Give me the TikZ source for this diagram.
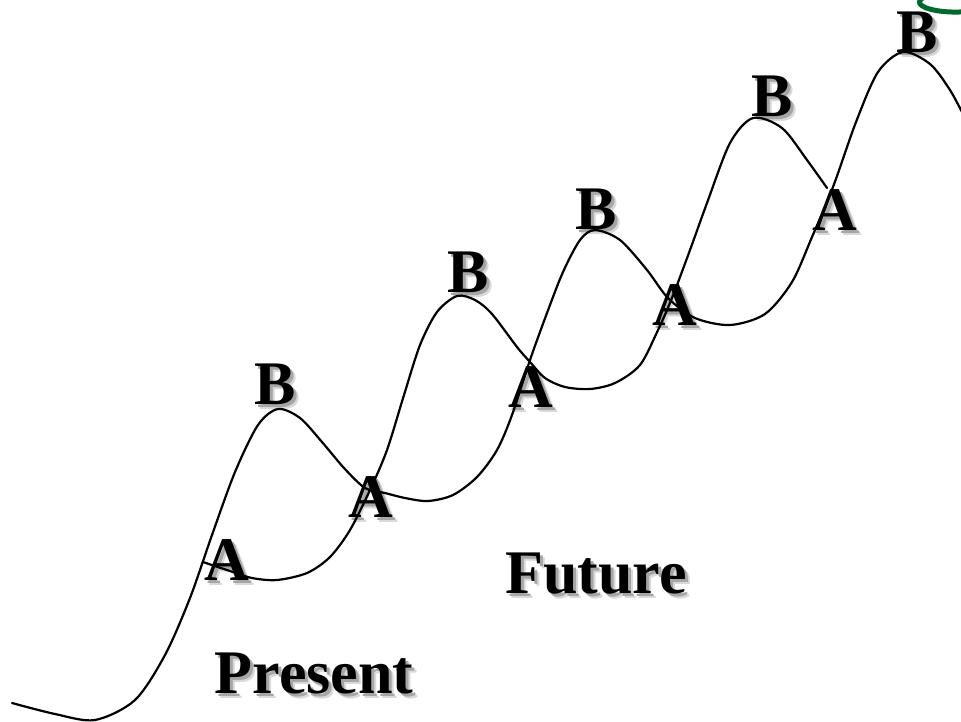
\documentclass[tikz,border=0pt]{standalone}
\usepackage{fontspec}
\setmainfont{Liberation Serif}
\definecolor{leaf}{RGB}{0,105,45}
\tikzset{tag/.style={inner sep=0pt, text=black}, ghost/.style={tag, text=black!#1}, wave/.style={line width=2.2pt}}
\begin{document}
\begin{tikzpicture}[x=1pt, y=-1pt, line join=round, line cap=round, font=\bfseries\fontsize{62}{66}\selectfont]
\useasboundingbox (0,0) rectangle (961,721);
% labels with a soft shadow
\foreach \x/\y/\n/\t in {227/560/a1/A, 371/497/a2/A, 531/387/a3/A, 675/305/a4/A, 835/210/a5/A, 275/384/b1/B, 468/272/b2/B, 596/209/b3/B, 772/96/b4/B, 917/32/b5/B, 596/574/fut/Future, 314/673/pres/Present} {
	\node[ghost=15] at (\x+5,\y+5) {\t};
	\node[ghost=35] at (\x+3,\y+3) {\t};
	\node[tag] (\n) at (\x,\y) {\t};
}
% the two waves
\draw[wave] plot[smooth] coordinates {(12,703) (55,714) (95,720) (135,700) (165,655) (190,598) (212,535) (235,472) (258,425) (278,409) (300,418) (322,442) (344,468) (365,488) (385,493) (405,498) (428,501) (453,495) (477,477) (497,450) (512,415) (530,360) (547,313) (563,272) (580,240) (595,230) (620,240) (647,270) (668,298) (695,318) (730,325) (765,314) (792,282) (812,237) (833,187) (856,122) (878,72) (903,52) (930,64) (950,90) (965,118)};
\draw[wave] plot[smooth] coordinates {(203,562) (230,571) (252,578) (277,580) (307,573) (330,557) (350,530) (370,490) (387,450) (404,395) (420,345) (437,312) (457,296) (475,300) (492,314) (517,347) (530,362) (545,378) (565,387) (590,389) (615,383) (640,365) (658,330) (672,298) (690,250) (707,203) (730,143) (753,118) (782,128) (807,160) (827,188)};
% green ring, cut off by the edge
\draw[leaf, line width=5pt] (930,-5) arc[start angle=225, end angle=80, x radius=36, y radius=10];
\end{tikzpicture}
\end{document}
